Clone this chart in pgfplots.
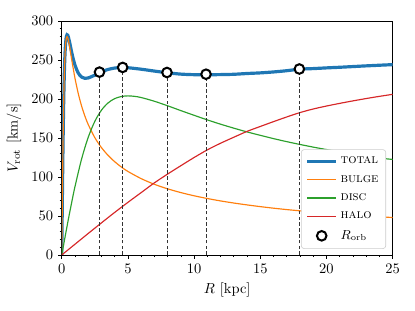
\documentclass[border=0pt]{standalone}
\usepackage{pgfplots}
\pgfplotsset{compat=1.18}
\usetikzlibrary{calc}
\definecolor{tabblue}{HTML}{1F77B4}
\definecolor{taborange}{HTML}{FF7F0E}
\definecolor{tabgreen}{HTML}{2CA02C}
\definecolor{tabred}{HTML}{D62728}
\begin{document}
\begin{tikzpicture}
\begin{axis}[
  scale only axis, width=228.3pt, height=161.4pt,
  xmin=0, xmax=25, ymin=0, ymax=300,
  xtick={0,5,...,25}, ytick={0,50,...,300},
  minor x tick num=4, minor y tick num=4,
  tick align=outside, tick pos=left,
  major tick length=2.5pt, minor tick length=1.4pt,
  every tick/.style={black, line width=0.5pt},
  axis line style={line width=0.6pt},
  xlabel={$R$ [kpc]}, ylabel={$V_{\mathrm{rot}}$ [km/s]},
  legend cell align=left,
  legend image code/.code={\draw[mark repeat=2,mark phase=2,#1] plot coordinates {(0cm,0cm) (0.35cm,0cm) (0.7cm,0cm)};},
  legend style={at={(0.98,0.026)}, anchor=south east, draw=black!20, rounded corners=2pt,
    font=\small, row sep=2.4pt, inner sep=3pt},
]
\coordinate (ll) at (rel axis cs:0,0);
\coordinate (ur) at (rel axis cs:1,1);
% TOTAL
\addplot[tabblue, line width=2.2pt, smooth] coordinates {
(0,0) (0.05,78.0) (0.1,146.3) (0.15,199.2) (0.2,236.1) (0.25,259.7) (0.3,273.4) (0.35,280.2)
(0.4,282.4) (0.45,281.9) (0.5,279.5) (0.6,272.3) (0.7,264.0) (0.8,256.2) (1,243.4) (1.25,233.2)
(1.5,228.1) (1.75,226.5) (2,227.0) (2.5,230.6) (3,234.8) (3.5,237.9) (4,239.7) (4.5,240.3)
(5,240.1) (6,238.2) (7,235.8) (8,233.6) (9,231.9) (10,231.2) (11,231.1) (12,231.3) (13,231.7)
(14,232.7) (15,233.5) (16,234.7) (17,236.3) (18,238.3) (19,239.0) (20,239.9) (21,240.7)
(22,241.6) (23,242.5) (24,243.3) (25,244.1)};
\addlegendentry{\textsc{total}}
% BULGE
\addplot[taborange, line width=0.8pt, smooth] coordinates {
(0,0) (0.05,77.9) (0.1,146.0) (0.15,198.7) (0.2,235.4) (0.25,258.7) (0.3,271.9) (0.35,278.3)
(0.4,280.0) (0.45,278.7) (0.5,275.6) (0.6,266.6) (0.7,256.1) (0.8,245.7) (1,226.6) (1.25,206.8)
(1.5,190.9) (1.75,178.0) (2,167.3) (2.5,150.4) (3,137.7) (3.5,127.7) (4,119.6) (4.5,112.8)
(5,107.1) (6,97.9) (7,90.6) (8,84.8) (9,80.0) (10,75.9) (11,72.4) (12,69.3) (13,66.6) (14,64.2)
(15,62.0) (16,60.0) (17,58.2) (18,56.6) (19,55.1) (20,53.7) (21,52.4) (22,51.2) (23,50.1)
(24,49.0) (25,48.0)};
\addlegendentry{\textsc{bulge}}
% DISC
\addplot[tabgreen, line width=0.8pt, smooth] coordinates {
(0,0) (0.25,23.1) (0.5,45.8) (0.75,67.4) (1,87.7) (1.5,123.1) (2,150.9) (2.5,171.4) (3,185.7)
(3.5,195.0) (4,200.5) (4.5,203.2) (5,204.0) (5.5,203.4) (6,201.9) (7,197.1) (8,191.3) (9,185.1)
(10,179.1) (11,173.2) (12,167.7) (13,162.6) (14,157.8) (15,153.4) (16,149.2) (17,145.3)
(18,141.7) (19,138.3) (20,135.2) (21,132.2) (22,129.4) (23,126.7) (24,124.3) (25,122.5)};
\addlegendentry{\textsc{disc}}
% HALO
\addplot[tabred, line width=0.8pt, smooth] coordinates {
(0,0) (1,13.8) (2,27.6) (3,41.2) (4,54.6) (5,67.5) (6,80.0) (7,92.5) (8,103.8) (9,114.5)
(10,125.0) (11,134.8) (12,143.3) (13,151.0) (14,158.5) (15,164.8) (16,171.0) (17,177.0)
(18,182.6) (19,187.2) (20,191.0) (21,194.4) (22,197.6) (23,200.6) (24,203.4) (25,206.0)};
\addlegendentry{\textsc{halo}}
% dashed drop lines
\addplot[ycomb, black!80, dash pattern=on 2.5pt off 1.5pt, line width=0.6pt, forget plot] coordinates {
(2.85,234.5) (4.6,240.5) (7.95,234.0) (10.9,231.8) (17.95,238.5)};
% R_orb markers
\addplot[only marks, mark=*, mark size=3.3pt, mark options={fill=white, draw=black, line width=1.4pt}] coordinates {
(2.85,234.5) (4.6,240.5) (7.95,234.0) (10.9,231.8) (17.95,238.5)};
\addlegendentry{$R_{\mathrm{orb}}$}
\end{axis}
\pgfresetboundingbox
\path ($(ll)+(-42.6pt,-38.6pt)$) rectangle ($(ur)+(15.4pt,14.5pt)$);
\end{tikzpicture}
\end{document}
